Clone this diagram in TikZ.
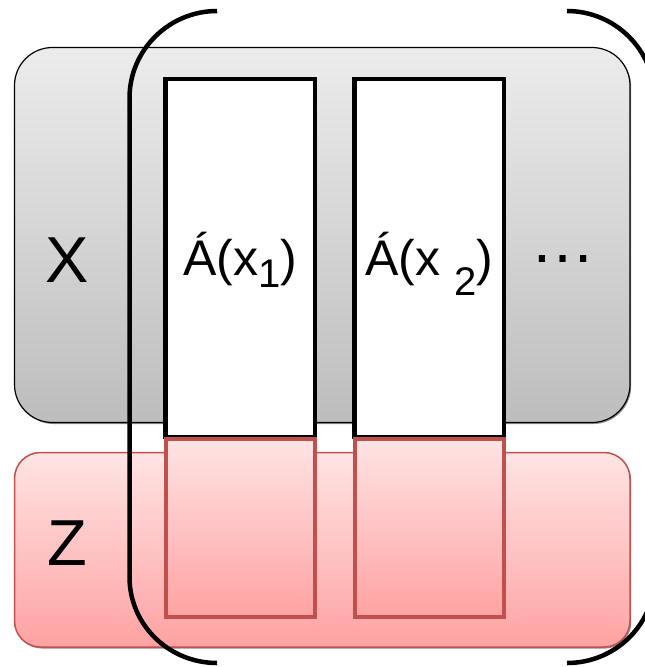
\documentclass[tikz,border=0pt]{standalone}
\usepackage{fontspec}
\setmainfont{Liberation Sans}
\usepackage{tikz}
\usetikzlibrary{shadows}

\definecolor{grayTop}{HTML}{ECECEC}
\definecolor{grayBot}{HTML}{BDBDBD}
\definecolor{pinkTop}{HTML}{FFE4E4}
\definecolor{pinkBot}{HTML}{FFA2A2}
\definecolor{redLine}{HTML}{C0504D}

\newcommand\colsub[2][12pt]{\raisebox{-#1}{\fontsize{40}{40}\selectfont #2}}

\begin{document}
\begin{tikzpicture}[x=1pt,y=-1pt,
  softshadow/.style={drop shadow={shadow xshift=1.2pt,shadow yshift=-1.5pt,opacity=.45,fill=black}},
  grayband/.style={rounded corners=38pt, draw=black, line width=1.2pt, top color=grayTop, bottom color=grayBot, softshadow},
  pinkband/.style={rounded corners=26pt, draw=redLine, line width=1.5pt, top color=pinkTop, bottom color=pinkBot, softshadow},
  colwhite/.style={fill=white, draw=black, line width=4.5pt},
  colpink/.style={top color=pinkTop, bottom color=pinkBot, draw=redLine, line width=4pt, softshadow},
  bracketline/.style={line width=4.5pt, preaction={draw=black!35, transform canvas={xshift=1.3pt,yshift=-1.3pt}}},
  bigtext/.style={font=\fontsize{65}{65}\selectfont, inner sep=0pt},
  coltext/.style={font=\fontsize{50}{50}\selectfont, inner sep=0pt, anchor=base}]
  \useasboundingbox (0,0) rectangle (645,667);

  % the two bands
  \draw[grayband] (14.5,47.5) rectangle (630,422.5);
  \draw[pinkband] (14.5,452.5) rectangle (630,647);
  \node[bigtext] (xlab) at (67,260.5) {X};
  \node[bigtext] (zlab) at (67,543.5) {Z};

  % columns
  \foreach \l/\r/\lab/\nm in {165.5/315/{Á(x\colsub{1})}/phione, 354.5/504/{Á(x \colsub[20pt]{2})}/phitwo}{
    \draw[colwhite] (\l,79) rectangle (\r,437);
    \draw[colpink] (\l,438.5) rectangle (\r,617);
    \node[coltext] (\nm) at ({(\l+\r)/2},275) {\lab};
  }
  \node[bigtext] (dots) at (563,259) {…};

  % big brackets
  \draw[bracketline] (217,11) .. controls (169,11) and (129.5,50) .. (129.5,98)
    -- (129.5,577) .. controls (129.5,625) and (169,663) .. (217,663);
  \draw[bracketline] (567,11) .. controls (615,11) and (654.5,50) .. (654.5,98)
    -- (654.5,577) .. controls (654.5,625) and (615,663) .. (567,663);
\end{tikzpicture}
\end{document}
